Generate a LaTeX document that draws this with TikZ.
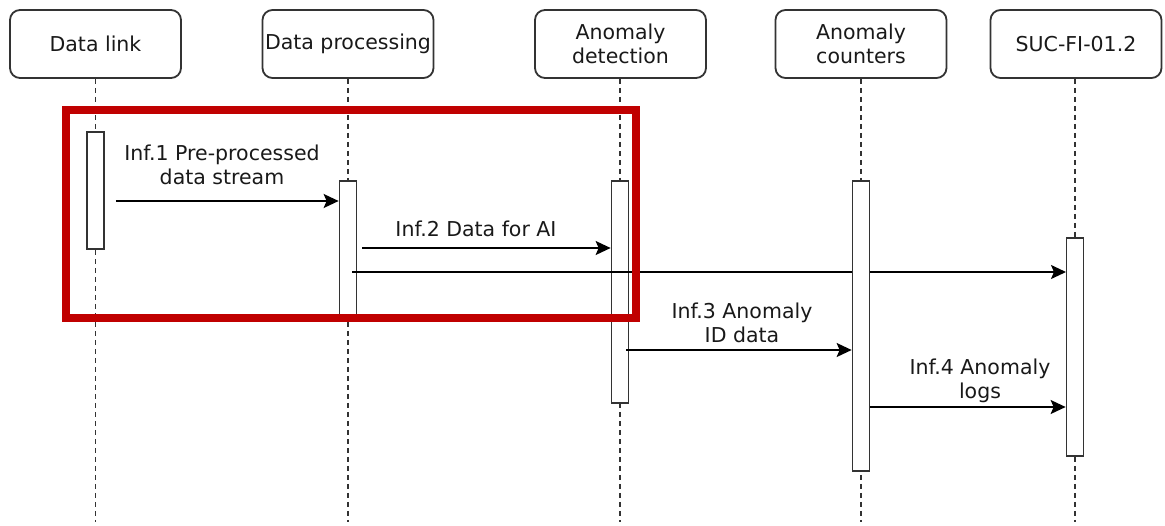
\documentclass[tikz,border=0pt]{standalone}
\usepackage{fontspec}
\setmainfont{DejaVu Sans}
\usetikzlibrary{arrows.meta,calc}
\definecolor{redbox}{HTML}{C00000}
\definecolor{ink}{HTML}{333333}
\begin{document}
\begin{tikzpicture}[x=1pt,y=-1pt,
 head/.style={draw=ink, line width=1.8pt, rounded corners=10pt, minimum width=171pt, minimum height=68pt, align=center, inner sep=0pt, font=\fontsize{20.5}{24}\selectfont, text=black!90},
 bar/.style={draw=ink, fill=white, line width=1.7pt, minimum width=17pt, inner sep=0pt, anchor=north},
 life/.style={draw=ink, line width=1.7pt, dash pattern=on 5pt off 4pt},
 msg/.style={draw=black, line width=1.8pt, -{Stealth[length=15pt,width=14pt,inset=3pt]}},
 lbl/.style={align=center, inner sep=0pt, font=\fontsize{20.5}{24}\selectfont, text=black!90},
 frame/.style={draw=redbox, line width=8.5pt}]
\useasboundingbox (0,0) rectangle (1165,525);
% headers
\node[head] (h1) at (95.5,44) {Data link};
\node[head] (h2) at (348,44) {Data processing};
\node[head] (h3) at (620.5,44) {Anomaly\\detection};
\node[head] (h4) at (861,44) {Anomaly\\counters};
\node[head] (h5) at (1076,44) {SUC-FI-01.2};
% lifeline ends
\coordinate (e1) at (95.5,522);
\coordinate (e2) at (348,522);
\coordinate (e3) at (620,522);
\coordinate (e4) at (861,522);
\coordinate (e5) at (1075,522);
\draw[life] (h1.south -| e1) -- (e1);
\draw[life] (h2.south -| e2) -- (e2);
\draw[life] (h3.south -| e3) -- (e3);
\draw[life] (h4.south -| e4) -- (e4);
\draw[life] (h5.south -| e5) -- (e5);
% activation bars
\node[bar, minimum height=117pt] (b1) at (95.5,131) {};
\node[bar, minimum height=135pt] (b2) at (348,180) {};
\node[bar, minimum height=222pt] (b3) at (620,180) {};
% long arrow
\draw[msg] ([xshift=4pt]b2.north |- 0,272) -- (1066,272) coordinate (c5a);
\node[bar, minimum height=290pt] (b4) at (861,180) {};
\node[bar, minimum height=218pt] (b5) at (1075,237) {};
% messages
\draw[msg] ([xshift=11pt]b1.east |- 0,201) -- (b2.west |- 0,201);
\node[lbl] (l1) at (222,165) {Inf.1 Pre-processed\\data stream};
\draw[msg] ([xshift=5pt]b2.east |- 0,248) -- (b3.west |- 0,248);
\node[lbl] (l2) at (476,229) {Inf.2 Data for AI};
\draw[msg] ([xshift=-3pt]b3.east |- 0,350) -- (b4.west |- 0,350);
\node[lbl] (l3) at (742,322.5) {Inf.3 Anomaly\\ID data};
\draw[msg] (b4.east |- 0,407) -- (b5.west |- 0,407);
\node[lbl] (l4) at (980,381) {Inf.4 Anomaly\\logs};
% highlight frame
\draw[frame] (66,110) rectangle (636,318);
\end{tikzpicture}
\end{document}
